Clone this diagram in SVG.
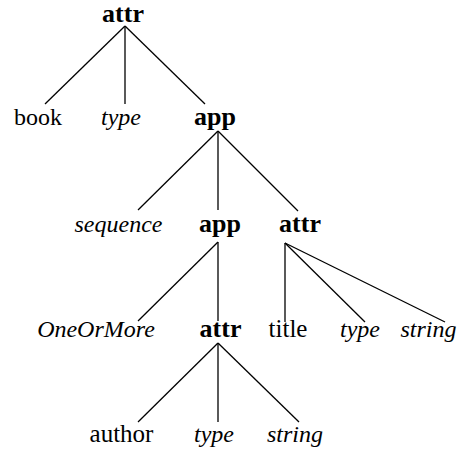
<svg xmlns="http://www.w3.org/2000/svg" width="459" height="450" viewBox="0 0 459 450">
<rect width="459" height="450" fill="#fff"/>
<g id="edges" stroke="#000" stroke-width="1.3">
<line x1="125" y1="26" x2="45" y2="104"/>
<line x1="125" y1="26" x2="125" y2="104"/>
<line x1="125" y1="26" x2="205" y2="104"/>
<line x1="218" y1="131" x2="138" y2="210"/>
<line x1="218" y1="131" x2="218" y2="210"/>
<line x1="218" y1="131" x2="298" y2="211"/>
<line x1="218" y1="242" x2="138" y2="321"/>
<line x1="218" y1="242" x2="218" y2="321"/>
<line x1="285" y1="243" x2="285" y2="322"/>
<line x1="285" y1="243" x2="365" y2="322"/>
<line x1="285" y1="243" x2="445" y2="322"/>
<line x1="218" y1="343" x2="138" y2="422"/>
<line x1="218" y1="343" x2="218" y2="422"/>
<line x1="218" y1="343" x2="299" y2="422"/>
</g>
<g id="n_attr1"><text font-family="Liberation Serif" font-size="26" font-weight="bold" text-anchor="middle" x="123" y="22">attr</text></g>
<g id="n_book"><text font-family="Liberation Serif" font-size="24" text-anchor="middle" x="38" y="125">book</text></g>
<g id="n_type1"><text font-family="Liberation Serif" font-size="24" font-style="italic" text-anchor="middle" x="121" y="125">type</text></g>
<g id="n_app1"><text font-family="Liberation Serif" font-size="26" font-weight="bold" text-anchor="middle" x="215" y="125">app</text></g>
<g id="n_sequence"><text font-family="Liberation Serif" font-size="24" font-style="italic" text-anchor="middle" x="118.5" y="232">sequence</text></g>
<g id="n_app2"><text font-family="Liberation Serif" font-size="26" font-weight="bold" text-anchor="middle" x="220" y="232">app</text></g>
<g id="n_attr2"><text font-family="Liberation Serif" font-size="26" font-weight="bold" text-anchor="middle" x="300" y="232">attr</text></g>
<g id="n_oneormore"><text font-family="Liberation Serif" font-size="24" font-style="italic" text-anchor="middle" x="96" y="337">OneOrMore</text></g>
<g id="n_attr3"><text font-family="Liberation Serif" font-size="26" font-weight="bold" text-anchor="middle" x="220.5" y="337">attr</text></g>
<g id="n_title"><text font-family="Liberation Serif" font-size="25" text-anchor="middle" x="288" y="337">title</text></g>
<g id="n_type2"><text font-family="Liberation Serif" font-size="24" font-style="italic" text-anchor="middle" x="360" y="337">type</text></g>
<g id="n_string1"><text font-family="Liberation Serif" font-size="24" font-style="italic" text-anchor="middle" x="428.5" y="337">string</text></g>
<g id="n_author"><text font-family="Liberation Serif" font-size="25" text-anchor="middle" x="121.5" y="442">author</text></g>
<g id="n_type3"><text font-family="Liberation Serif" font-size="24" font-style="italic" text-anchor="middle" x="214" y="442">type</text></g>
<g id="n_string2"><text font-family="Liberation Serif" font-size="24" font-style="italic" text-anchor="middle" x="295" y="442">string</text></g>
</svg>
